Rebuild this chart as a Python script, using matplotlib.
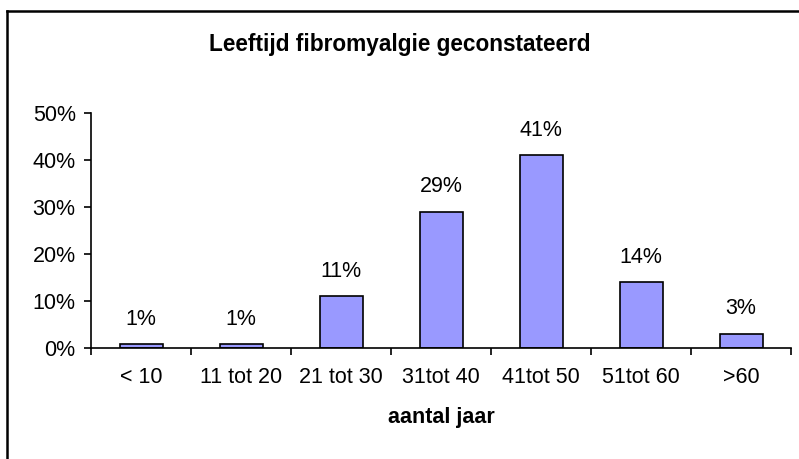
import matplotlib
matplotlib.use("Agg")
import matplotlib.pyplot as plt
from matplotlib.lines import Line2D
from matplotlib.ticker import FuncFormatter, FixedLocator, NullFormatter

plt.rcParams['font.family'] = ['Liberation Sans', 'DejaVu Sans']

categories = ["< 10", "11 tot 20", "21 tot 30", "31tot 40", "41tot 50", "51tot 60", ">60"]
values = [0.8, 0.8, 11.0, 29.0, 41.0, 14.0, 3.0]
labels = ["1%", "1%", "11%", "29%", "41%", "14%", "3%"]

fs = 15.5

fig = plt.figure(figsize=(7.99, 4.59), dpi=100)
ax = fig.add_axes([91 / 799, 1 - 348 / 459, 700 / 799, 235 / 459])

x = range(len(categories))
ax.bar(x, values, width=0.43, color="#9999FF", edgecolor="black", linewidth=1.2)

for i, (v, lab) in enumerate(zip(values, labels)):
    ax.annotate(lab, (i, v), xytext=(0, 18), textcoords="offset points",
                ha="center", va="center", fontsize=fs)

ax.set_xlim(-0.5, len(categories) - 0.5)
ax.set_ylim(0, 50)
ax.set_yticks([0, 10, 20, 30, 40, 50])
ax.yaxis.set_major_formatter(FuncFormatter(lambda v, p: f"{v:.0f}%"))

ax.xaxis.set_major_locator(FixedLocator([i - 0.5 for i in range(len(categories) + 1)]))
ax.xaxis.set_major_formatter(NullFormatter())
ax.xaxis.set_minor_locator(FixedLocator(list(x)))
ax.set_xticklabels(categories, minor=True)
ax.tick_params(axis="x", which="minor", length=0, pad=14, labelsize=fs)
ax.tick_params(axis="x", which="major", length=5, width=1.2, direction="out")
ax.tick_params(axis="y", length=5, width=1.2, direction="out", labelsize=fs, pad=6)

for s in ["top", "right"]:
    ax.spines[s].set_visible(False)
for s in ["left", "bottom"]:
    ax.spines[s].set_linewidth(1.2)

ax.set_xlabel("aantal jaar", fontsize=fs, fontweight="bold", labelpad=13)
fig.text(0.5, 1 - 44 / 459, "Leeftijd fibromyalgie geconstateerd", ha="center", va="center",
         fontsize=16.3, fontweight="bold")

# border of the chart area (only top and left visible)
fig.add_artist(Line2D([6.5 / 799, 1.0], [1 - 11 / 459, 1 - 11 / 459], color="black", linewidth=1.8,
                      transform=fig.transFigure))
fig.add_artist(Line2D([6.5 / 799, 6.5 / 799], [0.0, 1 - 11 / 459], color="black", linewidth=1.8,
                      transform=fig.transFigure))

fig.savefig("out.png", dpi=100)
